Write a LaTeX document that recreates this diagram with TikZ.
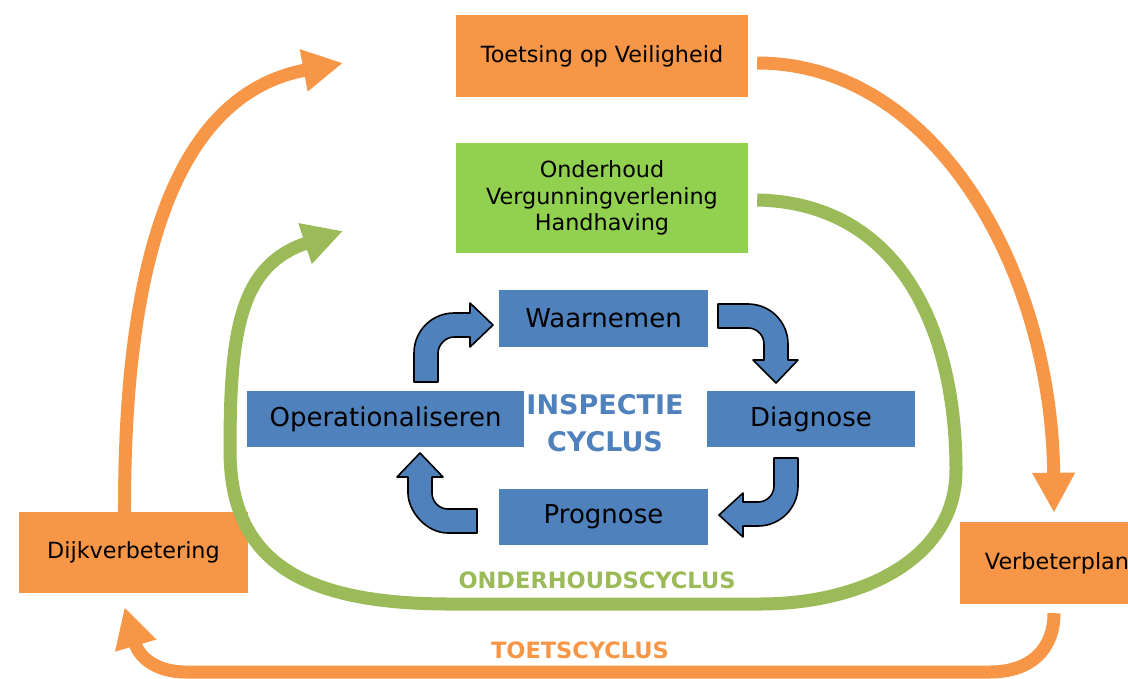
\documentclass[tikz,border=0pt]{standalone}
\usepackage{fontspec}
\setmainfont{DejaVu Sans}
\usetikzlibrary{arrows.meta,calc}
\definecolor{myorange}{HTML}{F79646}
\definecolor{mygreenbox}{HTML}{92D050}
\definecolor{mygreen}{HTML}{9BBB59}
\definecolor{myblue}{HTML}{4F81BD}
\tikzset{
  box/.style={rectangle, inner sep=0pt, font=\fontsize{22.3}{26.5}\selectfont, text=black, align=center},
  obox/.style={box, fill=myorange},
  gbox/.style={box, fill=mygreenbox},
  bbox/.style={rectangle, inner sep=0pt, fill=myblue, text=black, font=\fontsize{26}{30}\selectfont},
  bent/.style={fill=myblue, draw=black, line width=1.6pt, line join=round},
  oarrow/.style={draw=myorange, line width=13pt, -{Triangle[width=40pt,length=40pt]}},
  garrow/.style={draw=mygreen, line width=13pt, -{Triangle[width=40pt,length=40pt]}},
  cyclabel/.style={font=\bfseries\fontsize{22.5}{26}\selectfont},
}
\begin{document}
\begin{tikzpicture}[x=1pt,y=-1pt]
\clip (0,0) rectangle (1128,678);
\fill[white] (0,0) rectangle (1128,678);

% boxes
\node[obox, minimum width=292pt, minimum height=82pt] (toets) at (602,56) {Toetsing op Veiligheid};
\node[gbox, minimum width=292pt, minimum height=110pt] (onderhoud) at (602,198) {Onderhoud\\Vergunningverlening\\Handhaving};
\node[obox, minimum width=229pt, minimum height=81pt] (dijk) at (133.5,552.5) {Dijkverbetering};
\node[obox, minimum width=194pt, minimum height=82pt] (verb) at (1057,563) {Verbeterplan};

\node[bbox, minimum width=209pt, minimum height=57pt] (waar) at (603.5,318.5) {Waarnemen};
\node[bbox, minimum width=208pt, minimum height=56pt] (diag) at (811,419) {Diagnose};
\node[bbox, minimum width=277pt, minimum height=56pt] (oper) at (385.5,419) {Operationaliseren};
\node[bbox, minimum width=209pt, minimum height=56pt] (prog) at (603.5,517) {Prognose};

% labels
\node[font=\bfseries\fontsize{27}{37}\selectfont, text=myblue, align=center] (insp) at (605,423) {INSPECTIE\\CYCLUS};
\node[cyclabel, text=mygreen] (ohlabel) at (597,580) {ONDERHOUDSCYCLUS};
\node[cyclabel, text=myorange] (tlabel) at (580,650) {TOETSCYCLUS};

% free ends
\coordinate (tl) at (343,63);
\coordinate (gl) at (343,231);

% orange toetscyclus
\draw[oarrow] ($(toets.east)+(9,7)$) .. controls (935,63) and (1052,270) .. ($(verb.north)+(-3,-9)$);
\draw[oarrow] ($(verb.south)+(-3,9)$) .. controls (1054,650) and (1030,672) .. (990,672) -- (185,672) .. controls (160,672) and (140,660) .. ($(dijk.south)+(-9,14)$);
\draw[oarrow] ($(dijk.north)+(-9,0)$) .. controls (124,220) and (193,91) .. (tl);

% green onderhoudscyclus
\draw[garrow] ($(onderhoud.east)+(9,2)$) .. controls (900,203) and (956,330) .. (956,470)
  .. controls (956,560) and (860,604) .. (760,604) -- (450,604)
  .. controls (300,604) and (230,560) .. (230,450)
  .. controls (230,330) and (240,265) .. (gl);

% blue bent arrows
\draw[bent] (414,382) -- (414,353) .. controls (414,330.9) and (431.9,313) .. (454,313) -- (470,313) -- (470,303) -- (493,325) -- (470,347) -- (470,337) -- (454,337) .. controls (445.2,337) and (438,345.2) .. (438,353) -- (438,382) -- cycle;
\draw[bent] (718,304) -- (748,304) .. controls (770.1,304) and (788,321.9) .. (788,344) -- (788,360) -- (798,360) -- (776,383) -- (753,360) -- (764,360) -- (764,344) .. controls (764,335.2) and (756.8,328) .. (748,328) -- (718,328) -- cycle;
\draw[bent] (774,458) -- (798,458) -- (798,486) .. controls (798,508.1) and (780.1,526) .. (758,526) -- (743,526) -- (743,537) -- (719,515) -- (743,493) -- (743,502) -- (758,502) .. controls (766.8,502) and (774,494.8) .. (774,486) -- cycle;
\draw[bent] (477,509) -- (477,533) -- (448,533) .. controls (425.9,533) and (408,510.9) .. (408,493) -- (408,477) -- (397,477) -- (420,453) -- (443,477) -- (432,477) -- (432,493) .. controls (432,501.8) and (439.2,509) .. (448,509) -- cycle;
\end{tikzpicture}
\end{document}
